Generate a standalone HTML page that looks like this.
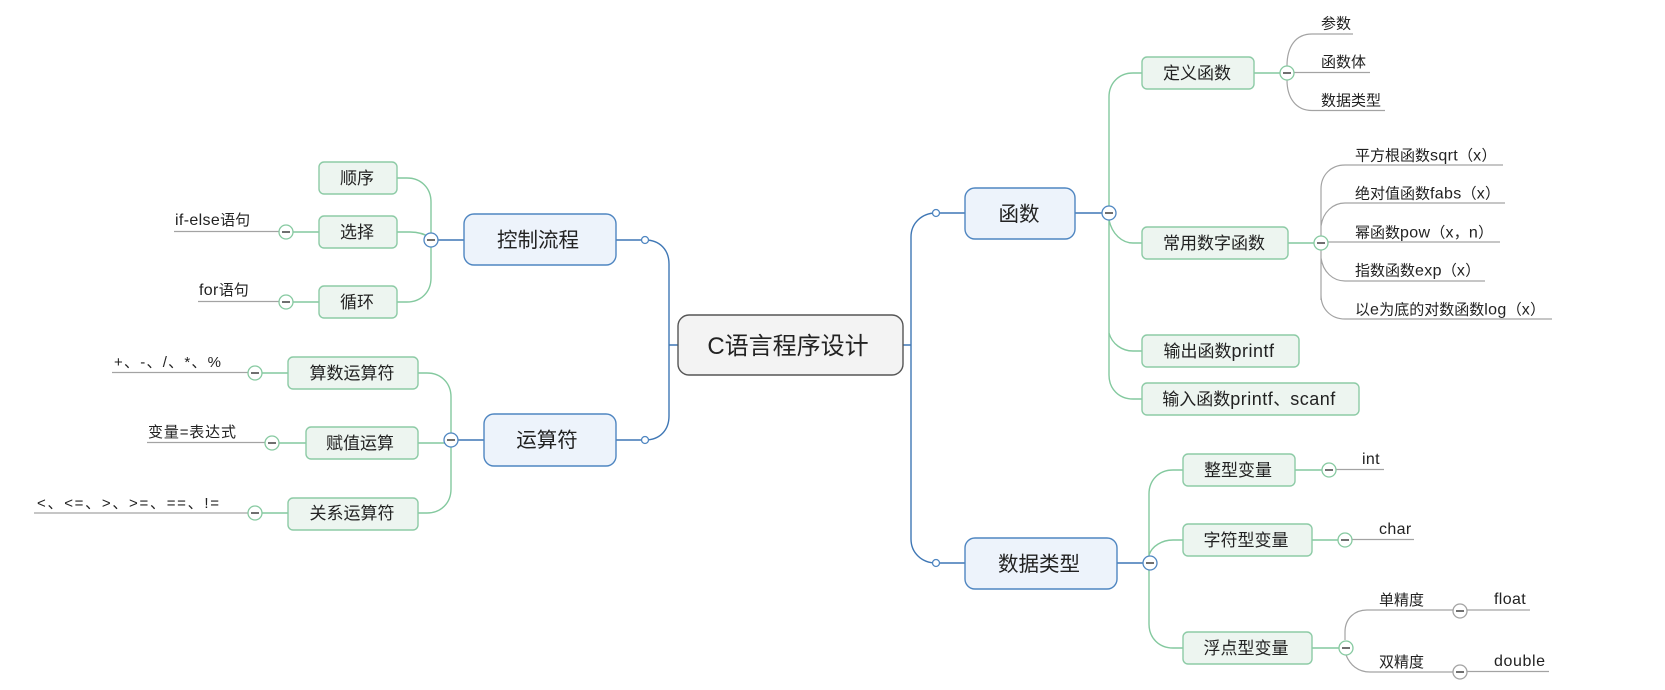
<!DOCTYPE html>
<html lang="zh">
<head>
<meta charset="utf-8">
<title>C语言程序设计</title>
<style>
html,body{margin:0;padding:0;background:#fff;width:1665px;height:690px;overflow:hidden}
svg{display:block;filter:blur(.3px)}
text{font-family:"Liberation Sans","Noto Sans CJK SC",sans-serif;fill:#222}
.m{text-anchor:middle}
.t1{font-size:20.500px}
.t2{font-size:17px}
.t3{font-size:15px}
.l2{font-size:18px;letter-spacing:.5px}
.l3{font-size:16px;letter-spacing:.35px}
.bl{fill:none;stroke:#3f77b5;stroke-width:1.4}
.gl{fill:none;stroke:#84c99f;stroke-width:1.4}
.yl{fill:none;stroke:#a3a3a3;stroke-width:1.2}
.b1{fill:#edf3fb;stroke:#4f86c1;stroke-width:1.4}
.b2{fill:#edf5f0;stroke:#8dcba6;stroke-width:1.4}
.cb{fill:#fff;stroke:#4f86c1;stroke-width:1.3}
.cg{fill:#fff;stroke:#86c9a0;stroke-width:1.3}
.cy{fill:#fff;stroke:#a3a3a3;stroke-width:1.3}
.dash{stroke:#333;stroke-width:1.4}
</style>
</head>
<body>
<svg width="1665" height="690" viewBox="0 0 1665 690" xmlns="http://www.w3.org/2000/svg">
<!-- Blue connectors -->
<path class="bl" d="M669 345H678M903 345H911M616 240H645C660 240 669 250 669 264V416C669 430 660 440 645 440H616"/>
<path class="bl" d="M965 213H936C922 213 911 223 911 237V539C911 553 922 563 936 563H965"/>
<path class="bl" d="M1075 213H1109M1117 563H1150M464 240H431M484 440H451"/>
<!-- Green connectors, right -->
<path class="gl" d="M1142 73H1133C1119 73 1109 83 1109 97V375C1109 389 1119 399 1133 399H1142"/>
<path class="gl" d="M1109 220C1112 234 1122 243 1133 243H1142M1109 333C1112 344 1122 351 1133 351H1142"/>
<path class="gl" d="M1254 73H1287M1288 243H1321"/>
<path class="gl" d="M1183 470H1173C1159 470 1149 480 1149 494V624C1149 638 1159 648 1173 648H1183"/>
<path class="gl" d="M1149 555C1152 546 1162 540 1173 540H1183M1295 470H1329M1312 540H1345M1312 648H1346"/>
<!-- Green connectors, left -->
<path class="gl" d="M397 178H407C421 178 431 188 431 202V278C431 292 421 302 407 302H397M397 232H410C418 232 425 234 431 238"/>
<path class="gl" d="M319 232H286M319 302H286M288 373H255M306 443H272M288 513H255"/>
<path class="gl" d="M418 373H427C441 373 451 383 451 397V489C451 503 441 513 427 513H418M418 443H451"/>
<!-- Gray connectors, right -->
<path class="yl" d="M1312 34H1353M1287 66C1287 46 1296 34 1312 34M1287 80C1287 98 1296 110.500 1312 110.500H1385M1294 72.500H1370"/>
<path class="yl" d="M1355 165H1503M1355 203H1505M1328 242H1500M1355 281H1485M1355 319H1552"/>
<path class="yl" d="M1321 300V189C1321 175 1331 165 1345 165H1355M1321 226C1323 212 1333 203 1345 203H1355M1321 258C1323 272 1333 281 1345 281H1355M1321 295C1321 309 1331 319 1345 319H1355"/>
<path class="yl" d="M1336 469.500H1384M1352 539.500H1414"/>
<path class="yl" d="M1345 640V632C1345 618 1355 610 1367 610H1460M1346 655C1350 665 1358 672 1370 672H1460M1460 610H1530M1460 671.500H1549"/>
<!-- Gray connectors, left -->
<path class="yl" d="M174 231.500H286M198 301.500H286M112 372.500H255M147 442.500H272M34 513H255"/>
<!-- Center -->
<rect x="678" y="315" width="225" height="60" rx="11" fill="#f3f3f3" stroke="#555" stroke-width="1.4"/>
<text class="m" x="788" y="354" font-size="24">C语言程序设计</text>
<!-- Level 1 -->
<rect class="b1" x="464" y="214" width="152" height="51" rx="10"/>
<text class="m t1" x="538" y="247">控制流程</text>
<rect class="b1" x="484" y="414" width="132" height="52" rx="10"/>
<text class="m t1" x="547" y="447">运算符</text>
<rect class="b1" x="965" y="188" width="110" height="51" rx="10"/>
<text class="m t1" x="1019" y="221">函数</text>
<rect class="b1" x="965" y="538" width="152" height="51" rx="10"/>
<text class="m t1" x="1039" y="571">数据类型</text>
<!-- Level 2, right -->
<rect class="b2" x="1142" y="57" width="112" height="32" rx="5"/>
<text class="m t2" x="1197" y="79">定义函数</text>
<rect class="b2" x="1142" y="227" width="146" height="32" rx="5"/>
<text class="m t2" x="1214" y="249">常用数字函数</text>
<rect class="b2" x="1142" y="335" width="157" height="32" rx="5"/>
<text class="m t2" x="1219" y="357">输出函数<tspan class="l2">printf</tspan></text>
<rect class="b2" x="1142" y="383" width="217" height="32" rx="5"/>
<text class="m t2" x="1249" y="405">输入函数<tspan class="l2">printf</tspan>、<tspan class="l2">scanf</tspan></text>
<rect class="b2" x="1183" y="454" width="112" height="32" rx="5"/>
<text class="m t2" x="1238" y="476">整型变量</text>
<rect class="b2" x="1183" y="524" width="129" height="32" rx="5"/>
<text class="m t2" x="1246" y="546">字符型变量</text>
<rect class="b2" x="1183" y="632" width="129" height="32" rx="5"/>
<text class="m t2" x="1246" y="654">浮点型变量</text>
<!-- Level 2, left -->
<rect class="b2" x="319" y="162" width="78" height="32" rx="5"/>
<text class="m t2" x="357" y="184">顺序</text>
<rect class="b2" x="319" y="216" width="78" height="32" rx="5"/>
<text class="m t2" x="357" y="238">选择</text>
<rect class="b2" x="319" y="286" width="78" height="32" rx="5"/>
<text class="m t2" x="357" y="308">循环</text>
<rect class="b2" x="288" y="357" width="130" height="32" rx="5"/>
<text class="m t2" x="352" y="379">算数运算符</text>
<rect class="b2" x="306" y="427" width="112" height="32" rx="5"/>
<text class="m t2" x="360" y="449">赋值运算</text>
<rect class="b2" x="288" y="498" width="130" height="32" rx="5"/>
<text class="m t2" x="352" y="519">关系运算符</text>
<!-- Leaves -->
<g class="t3">
<text x="1321" y="28.500">参数</text>
<text x="1321" y="67">函数体</text>
<text x="1321" y="105.500">数据类型</text>
<text x="1355" y="160.500">平方根函数<tspan class="l3">sqrt</tspan>（<tspan class="l3">x</tspan>）</text>
<text x="1355" y="198.500">绝对值函数<tspan class="l3">fabs</tspan>（<tspan class="l3">x</tspan>）</text>
<text x="1355" y="237.500">幂函数<tspan class="l3">pow</tspan>（<tspan class="l3">x</tspan>，<tspan class="l3">n</tspan>）</text>
<text x="1355" y="275.500">指数函数<tspan class="l3">exp</tspan>（<tspan class="l3">x</tspan>）</text>
<text x="1355" y="314.500">以<tspan class="l3">e</tspan>为底的对数函数<tspan class="l3">log</tspan>（<tspan class="l3">x</tspan>）</text>
<text x="1362" y="464" class="l3">int</text>
<text x="1379" y="534" class="l3">char</text>
<text x="1379" y="605">单精度</text>
<text x="1379" y="667">双精度</text>
<text x="1494" y="604" class="l3">float</text>
<text x="1494" y="666" class="l3" style="letter-spacing:.6px">double</text>
<text x="175" y="225"><tspan class="l3">if-else</tspan>语句</text>
<text x="199" y="295"><tspan class="l3">for</tspan>语句</text>
<text x="114" y="367" textLength="107" lengthAdjust="spacing">+、-、/、*、%</text>
<text x="148" y="437" textLength="88" lengthAdjust="spacing">变量=表达式</text>
<text x="37" y="508" textLength="182" lengthAdjust="spacing">&lt;、&lt;=、&gt;、&gt;=、==、!=</text>
</g>
<!-- Small expanded dots -->
<circle class="cb" cx="645" cy="240" r="3.500"/>
<circle class="cb" cx="645" cy="440" r="3.500"/>
<circle class="cb" cx="936" cy="213" r="3.500"/>
<circle class="cb" cx="936" cy="563" r="3.500"/>
<!-- Collapse buttons: blue -->
<g><circle class="cb" cx="1109" cy="213" r="7"/><path class="dash" d="M1105 213H1113"/></g>
<g><circle class="cb" cx="1150" cy="563" r="7"/><path class="dash" d="M1146 563H1154"/></g>
<g><circle class="cb" cx="431" cy="240" r="7"/><path class="dash" d="M427 240H435"/></g>
<g><circle class="cb" cx="451" cy="440" r="7"/><path class="dash" d="M447 440H455"/></g>
<!-- Collapse buttons: green -->
<g><circle class="cg" cx="1287" cy="73" r="7"/><path class="dash" d="M1283 73H1291"/></g>
<g><circle class="cg" cx="1321" cy="243" r="7"/><path class="dash" d="M1317 243H1325"/></g>
<g><circle class="cg" cx="1329" cy="470" r="7"/><path class="dash" d="M1325 470H1333"/></g>
<g><circle class="cg" cx="1345" cy="540" r="7"/><path class="dash" d="M1341 540H1349"/></g>
<g><circle class="cg" cx="1346" cy="648" r="7"/><path class="dash" d="M1342 648H1350"/></g>
<g><circle class="cg" cx="286" cy="232" r="7"/><path class="dash" d="M282 232H290"/></g>
<g><circle class="cg" cx="286" cy="302" r="7"/><path class="dash" d="M282 302H290"/></g>
<g><circle class="cg" cx="255" cy="373" r="7"/><path class="dash" d="M251 373H259"/></g>
<g><circle class="cg" cx="272" cy="443" r="7"/><path class="dash" d="M268 443H276"/></g>
<g><circle class="cg" cx="255" cy="513" r="7"/><path class="dash" d="M251 513H259"/></g>
<!-- Collapse buttons: gray -->
<g><circle class="cy" cx="1460" cy="611" r="7"/><path class="dash" d="M1456 611H1464"/></g>
<g><circle class="cy" cx="1460" cy="672" r="7"/><path class="dash" d="M1456 672H1464"/></g>
</svg>
</body>
</html>
